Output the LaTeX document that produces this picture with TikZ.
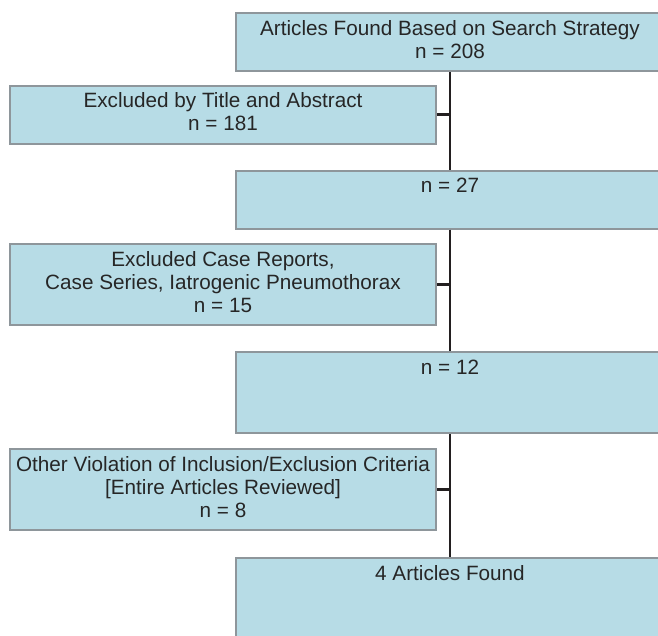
\documentclass[tikz,border=0pt]{standalone}
\usepackage{fontspec}
\setmainfont{Liberation Sans}
\usetikzlibrary{calc}

\begin{document}
\begin{tikzpicture}[x=1pt, y=-1pt]
    % Define colours
    \definecolor{borderColour}{HTML}{8E969B}
    \definecolor{fillColour}{HTML}{B7DCE6}
    \definecolor{lineColour}{HTML}{231F20}

    % Define box widths
    \def\rightWidth{428}
    \def\leftWidth{426}

    % Styles
    \tikzset{
        box/.style={draw=borderColour, fill=fillColour, line width=2pt, align=center,
            inner ysep=6pt, inner xsep=0pt, font=\fontsize{20.7}{23}\selectfont, text=black!85},
        mainbox/.style={box, minimum width=\rightWidth pt},
        sidebox/.style={box, minimum width=\leftWidth pt},
        trunk/.style={draw=lineColour, line width=2.2pt}
    }

    % Fix the frame
    \useasboundingbox (0,0) rectangle (658,635);
    \clip (0,0) rectangle (658,635);

    % Main column
    \node[mainbox] (found)   at (450,42)    {\strut Articles Found Based on Search Strategy\\\strut n = 208};
    \node[mainbox] (n27)     at (450,199.5) {\strut n = 27\\\strut};
    \node[mainbox] (n12)     at (450,392.5) {\strut n = 12\\\strut\\\strut};
    \node[mainbox] (final)   at (450,598.5) {\strut 4 Articles Found\\\strut\\\strut};

    % Excluded boxes
    \node[sidebox] (exTitle) at (223,114.5) {\strut Excluded by Title and Abstract\\\strut n = 181};
    \node[sidebox] (exCase)  at (223,284.5) {\strut Excluded Case Reports,\\\strut Case Series, Iatrogenic Pneumothorax\\\strut n = 15};
    \node[sidebox] (exOther) at (223,489.5) {\strut Other Violation of Inclusion/Exclusion Criteria\\\strut [Entire Articles Reviewed]\\\strut n = 8};

    % Draw trunk
    \draw[trunk] (found.south) -- (n27.north);
    \draw[trunk] (n27.south) -- (n12.north);
    \draw[trunk] (n12.south) -- (final.north);

    % Draw branches
    \foreach \b in {exTitle, exCase, exOther}
        \draw[trunk] (\b.east) -- (\b.east -| found.south);

\end{tikzpicture}
\end{document}
